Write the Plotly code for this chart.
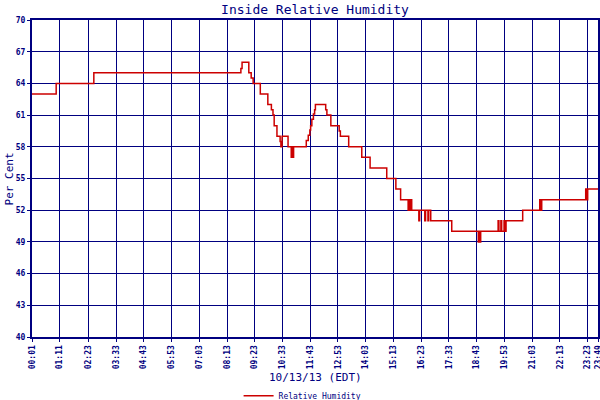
import plotly.graph_objects as go

DAY = "2013-10-13 "

# change points (time, relative humidity %)
times = ["00:01", "01:02", "02:37", "08:48", "08:51", "09:08", "09:14", "09:19",
         "09:37", "09:56", "10:05", "10:09", "10:12", "10:19", "10:27", "10:29",
         "10:32", "10:47", "10:55", "10:57", "10:59", "11:01", "11:33", "11:38",
         "11:42", "11:44", "11:47", "11:51", "11:54", "11:56", "12:22", "12:25",
         "12:35", "12:56", "12:59", "13:20", "13:53", "14:14", "14:56", "15:19",
         "15:31", "15:50", "15:52", "15:55", "15:57", "15:59", "16:17", "16:19",
         "16:32", "16:34", "16:40", "16:42", "16:47", "17:40", "18:47", "18:49",
         "18:51", "18:53", "19:37", "19:39", "19:44", "19:46", "19:52", "19:54",
         "19:57", "20:39", "21:22", "21:24", "21:27", "23:18", "23:20", "23:23",
         "23:49"]
humidity = [63, 64, 65, 65.4, 66, 65, 64.5, 64,
            63, 62, 61.5, 61, 60, 59, 58.5, 58,
            59, 58, 57, 58, 57, 58, 58.6, 59.1,
            59.6, 60, 60.6, 61.1, 61.5, 62, 61.5, 61,
            60, 59.5, 59, 58, 57, 56, 55, 54,
            53, 52, 53, 52, 53, 52, 51, 52,
            51, 52, 51, 52, 51, 50, 49, 50,
            49, 50, 51, 50, 51, 50, 51, 50,
            51, 52, 53, 52, 53, 54, 53, 54,
            54]

tick_labels = ["00:01", "01:11", "02:23", "03:33", "04:43", "05:53", "07:03",
               "08:13", "09:23", "10:33", "11:43", "12:53", "14:03", "15:13",
               "16:23", "17:33", "18:43", "19:53", "21:03", "22:13", "23:23",
               "23:49"]
y_ticks = list(range(40, 71, 3))

navy = "#000080"
mono = "DejaVu Sans Mono"

fig = go.Figure()
fig.add_trace(go.Scatter(
    x=[DAY + t for t in times], y=humidity, mode="lines",
    line=dict(color="#CC0000", width=1.5, shape="hv"),
    name="Relative Humidity"))

fig.update_layout(
    width=600, height=400,
    margin=dict(l=32, r=2, t=20, b=63, autoexpand=False),
    paper_bgcolor="white", plot_bgcolor="white",
    font=dict(family=mono, color=navy),
    title=dict(text="Inside Relative Humidity", x=0.5, xref="paper",
               y=1 - 9 / 400, yanchor="middle",
               font=dict(family=mono, size=13, color=navy)),
    showlegend=True,
    legend=dict(orientation="h", x=0.365, xanchor="left", y=-0.185,
                yanchor="middle", font=dict(family=mono, size=8, color=navy),
                itemwidth=30, bgcolor="rgba(0,0,0,0)"),
)

fig.update_xaxes(
    type="date", automargin=False,
    range=[DAY + "00:01", DAY + "23:49"],
    tickvals=[DAY + t for t in tick_labels], ticktext=tick_labels,
    tickangle=-90, tickfont=dict(family=mono, size=8, color=navy, weight="bold"),
    ticklabeloverflow="allow",
    ticks="outside", ticklen=3, tickcolor=navy,
    showgrid=True, gridcolor=navy, gridwidth=1.3,
    showline=True, linecolor=navy, linewidth=2, mirror=True,
    zeroline=False,
)
fig.update_yaxes(
    automargin=False,
    range=[40, 70], tickvals=y_ticks,
    tickfont=dict(family=mono, size=8, color=navy, weight="bold"),
    ticks="outside", ticklen=3, tickcolor=navy,
    showgrid=True, gridcolor=navy, gridwidth=1.3,
    showline=True, linecolor=navy, linewidth=2, mirror=True,
    zeroline=False,
)

fig.add_annotation(text="Per Cent", xref="paper", yref="paper",
                   x=-0.039, y=0.5, textangle=-90, showarrow=False,
                   xanchor="center", yanchor="middle",
                   font=dict(family=mono, size=11, color=navy))
fig.add_annotation(text="10/13/13 (EDT)", xref="paper", yref="paper",
                   x=0.5, y=-0.129, showarrow=False,
                   xanchor="center", yanchor="middle",
                   font=dict(family=mono, size=11, color=navy))

# drop the default page margin so the 600x400 figure fills the window
fig.write_html("out.html", config={"displayModeBar": False},
               post_script="document.body.style.margin='0';")
